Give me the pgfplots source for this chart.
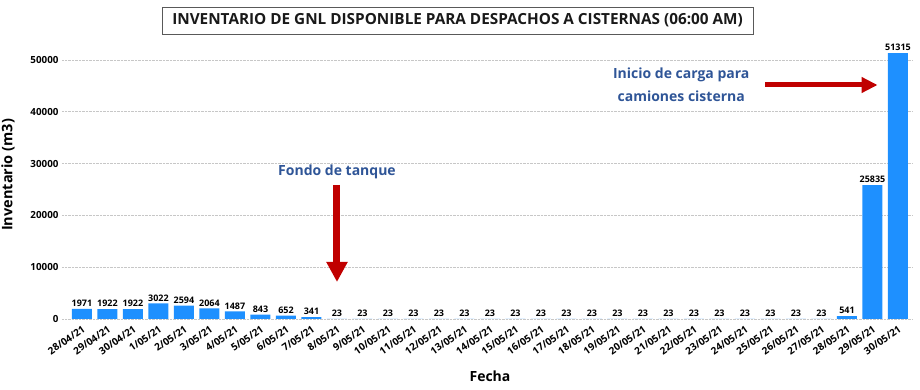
\documentclass[border=0pt]{standalone}
\usepackage{pgfplots}
\pgfplotsset{compat=1.18}
\usepackage{fontspec}
\setmainfont{Open Sans}
\usetikzlibrary{arrows.meta}
\definecolor{barblue}{RGB}{30,144,255}
\definecolor{annblue}{RGB}{47,85,151}
\definecolor{arrred}{RGB}{192,0,0}
\begin{document}
\begin{tikzpicture}
\useasboundingbox (-62pt,-71pt) rectangle (858pt,319pt);
\begin{axis}[
  at={(0pt,0pt)}, anchor=south west,
  scale only axis, width=850pt, height=279.72pt,
  xmin=-0.784, xmax=32.55, ymin=0, ymax=54000,
  axis line style={draw=none}, major tick style={draw=none},
  ytick={0,10000,20000,30000,40000,50000},
  scaled y ticks=false,
  /pgf/number format/1000 sep={},
  /pgf/number format/assume math mode=true,
  y tick label style={font=\fontsize{9.8}{11}\selectfont\bfseries},
  ymajorgrids, grid style={densely dotted, black!22, line width=0.7pt},
  xtick={0,...,32},
  xticklabels={28/04/21,29/04/21,30/04/21,1/05/21,2/05/21,3/05/21,4/05/21,5/05/21,6/05/21,7/05/21,8/05/21,9/05/21,10/05/21,11/05/21,12/05/21,13/05/21,14/05/21,15/05/21,16/05/21,17/05/21,18/05/21,19/05/21,20/05/21,21/05/21,22/05/21,23/05/21,24/05/21,25/05/21,26/05/21,27/05/21,28/05/21,29/05/21,30/05/21},
  x tick label style={rotate=35, anchor=north east, inner sep=1pt, font=\fontsize{10}{11}\selectfont\bfseries},
  xlabel={Fecha}, ylabel={Inventario (m3)},
  xlabel style={at={(axis description cs:0.5035,-0.2038)}, anchor=center, font=\fontsize{14}{16}\selectfont\bfseries},
  ylabel style={at={(axis description cs:-0.0635,0.515)}, anchor=center, rotate=0, font=\fontsize{14.5}{16}\selectfont\bfseries},
  ybar, bar width=20pt,
  nodes near coords={\pgfmathprintnumber{\pgfplotspointmeta}},
  nodes near coords style={font=\fontsize{9}{10}\selectfont\bfseries, anchor=south, inner sep=2pt},
  clip=false,
]
\addplot[fill=barblue, draw=none] coordinates {
(0,1971) (1,1922) (2,1922) (3,3022) (4,2594) (5,2064) (6,1487) (7,843) (8,652) (9,341)
(10,23) (11,23) (12,23) (13,23) (14,23) (15,23) (16,23) (17,23) (18,23) (19,23)
(20,23) (21,23) (22,23) (23,23) (24,23) (25,23) (26,23) (27,23) (28,23) (29,23)
(30,541) (31,25835) (32,51315)};
\node[font=\fontsize{14}{16}\selectfont\bfseries, text=annblue] at (axis cs:10,28380) {Fondo de tanque};
\draw[arrred, line width=7pt, -{Triangle[length=20pt,width=20pt]}] (axis cs:10,25870) -- (axis cs:10,7143);
\node[align=center, font=\fontsize{14}{23}\selectfont\bfseries, text=annblue] at (axis cs:23.5,45270) {Inicio de carga para\\camiones cisterna};
\draw[arrred, line width=5pt, -{Triangle[length=16pt,width=15pt]}] (axis cs:26.8,45174) -- (axis cs:31.2,45174);
\end{axis}
\node[draw=black!65, line width=0.8pt, minimum width=591pt, minimum height=27pt, font=\fontsize{15.3}{17}\selectfont\bfseries, text=black!90] at (395.5pt,298.5pt) {INVENTARIO DE GNL DISPONIBLE PARA DESPACHOS A CISTERNAS (06:00 AM)};
\end{tikzpicture}
\end{document}
